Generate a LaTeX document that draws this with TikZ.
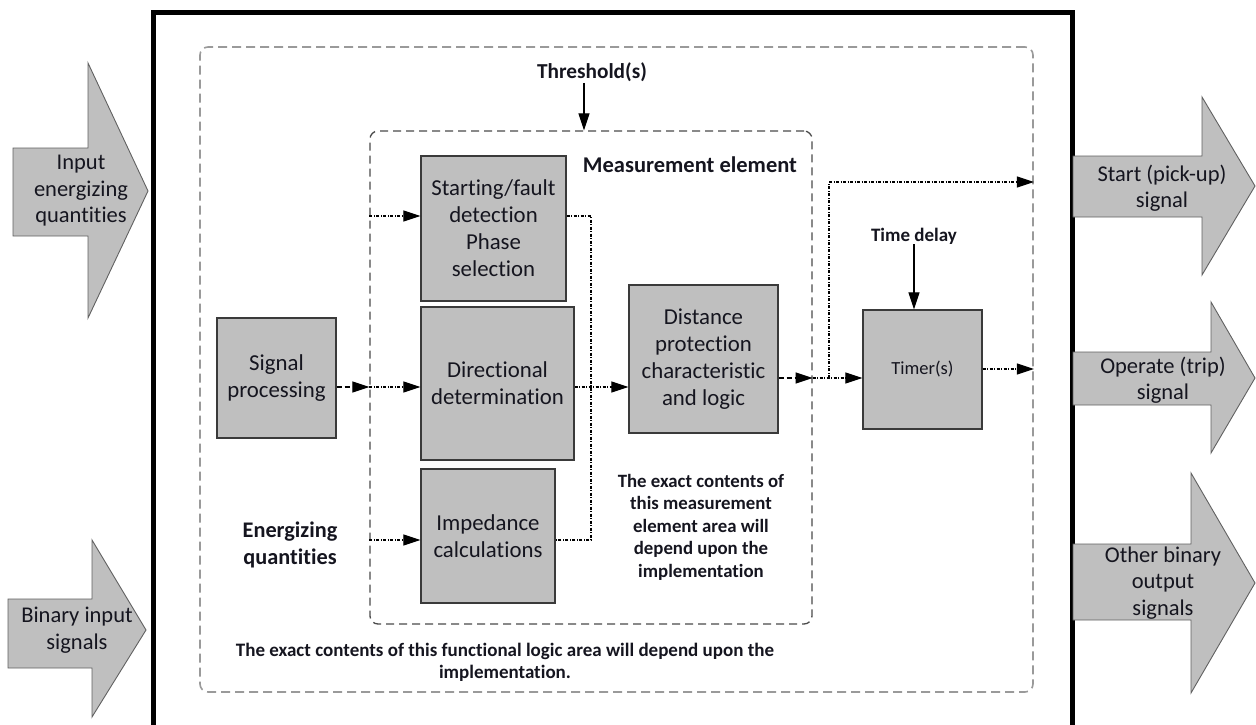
\documentclass[tikz,border=0pt]{standalone}
\usepackage{fontspec}
\setmainfont{Carlito}[Ligatures={NoCommon}]
\usetikzlibrary{arrows.meta}
\definecolor{boxfill}{HTML}{BFBFBF}
\definecolor{boxline}{HTML}{3A3A3A}
\definecolor{txt}{HTML}{15151F}
\definecolor{outerdash}{HTML}{9A9A9A}
\definecolor{innerdash}{HTML}{4A4A4A}
\tikzset{
  arrowtxt/.style={font=\fontsize{22.5}{26.5}\selectfont},
  blk/.style={draw=boxline, fill=boxfill, line width=1.3pt, align=center,
    text=txt, inner sep=0pt, font=\fontsize{22.8}{27}\selectfont},
  lbl/.style={align=center, text=txt, inner sep=0pt},
  bigarrow/.style={draw=boxline!80, fill=boxfill, line width=0.9pt, line join=miter},
  frameline/.style={line width=5pt, black, line cap=rect, line join=miter},
  areaout/.style={draw=outerdash, line width=1.6pt, rounded corners=8pt,
    dash pattern=on 9pt off 5pt, inner sep=0pt},
  areain/.style={draw=innerdash, line width=1.3pt, rounded corners=8pt,
    dash pattern=on 8pt off 5pt, inner sep=0pt},
  conn/.style={line width=1.1pt, dash pattern=on 3pt off 1.5pt on 1pt off 1.5pt,
    -{Triangle[length=17pt,width=11pt]}},
  wire/.style={line width=1.1pt, dash pattern=on 3pt off 1.5pt on 1pt off 1.5pt},
  dconn/.style={line width=1.2pt, dash pattern=on 5pt off 3pt,
    -{Triangle[length=17pt,width=11pt]}},
  sconn/.style={line width=1.2pt, -{Triangle[length=17pt,width=11pt]}},
}
\begin{document}
\begin{tikzpicture}[x=1pt, y=-1pt]
\useasboundingbox (0,0) rectangle (1256,725);

% relay enclosure
\draw[frameline] (153,725) -- (153,13) -- (1072,13) -- (1072,725);

% functional logic area and measurement element area
\node[areaout, minimum width=833pt, minimum height=645pt] (logic) at (616.5,369.5) {};
\node[areain, minimum width=442pt, minimum height=493pt] (meas) at (591,377.5) {};

% input arrows
\draw[bigarrow] (13,148) -- (88,148) -- (88,63) -- (148,191) -- (88,318) -- (88,236) -- (13,236) -- cycle;
\node[lbl, arrowtxt] (inq) at (81,191) {Input\\energizing\\quantities};
\draw[bigarrow] (8,599) -- (92,599) -- (92,540) -- (146,630) -- (92,717) -- (92,668) -- (8,668) -- cycle;
\node[lbl, arrowtxt] (inb) at (77,630) {Binary input\\signals};

% output arrows
\draw[bigarrow] (1073,156) -- (1202,156) -- (1202,97) -- (1255,186) -- (1202,275) -- (1202,217) -- (1073,217) -- cycle;
\node[lbl, arrowtxt] (ostart) at (1162,188) {Start (pick-up)\\signal};
\draw[bigarrow] (1073,352) -- (1211,352) -- (1211,302) -- (1255,378) -- (1211,453) -- (1211,405) -- (1073,405) -- cycle;
\node[lbl, arrowtxt] (otrip) at (1163,380) {Operate (trip)\\signal};
\draw[bigarrow] (1073,544) -- (1191,544) -- (1191,473) -- (1255,583) -- (1191,693) -- (1191,620) -- (1073,620) -- cycle;
\node[lbl, arrowtxt] (oother) at (1163,583) {Other binary\\output\\signals};

% function blocks
\node[blk, minimum width=119pt, minimum height=120pt] (sp) at (276.5,378) {Signal\\processing};
\node[blk, minimum width=145pt, minimum height=145pt] (sfd) at (493.5,228.5) {Starting/fault\\detection\\Phase\\selection};
\node[blk, minimum width=153pt, minimum height=153pt] (dir) at (497.5,383.5) {Directional\\determination};
\node[blk, minimum width=134pt, minimum height=134pt] (imp) at (488,536) {Impedance\\calculations};
\node[blk, minimum width=149pt, minimum height=148pt] (dpc) at (703.5,359) {Distance\\protection\\characteristic\\and logic};
\node[blk, minimum width=119pt, minimum height=119pt, font=\fontsize{18.5}{22}\selectfont] (tmr) at (922.5,369.5) {Timer(s)};

% labels
\node[lbl, font=\bfseries\fontsize{21.3}{26}\selectfont] (thr) at (592,72) {Threshold(s)};
\node[lbl, font=\bfseries\fontsize{22.5}{26}\selectfont] (mel) at (690,165) {Measurement element};
\node[lbl, font=\bfseries\fontsize{19}{22}\selectfont] (tdl) at (914,236) {Time delay};
\node[lbl, font=\bfseries\fontsize{22.3}{27}\selectfont] (enq) at (290,545) {Energizing\\quantities};
\node[lbl, font=\bfseries\fontsize{18.8}{22.5}\selectfont] (mnote) at (701,527) {The exact contents of\\this measurement\\element area will\\depend upon the\\implementation};
\node[lbl, font=\bfseries\fontsize{19}{22}\selectfont] (lnote) at (505,662) {The exact contents of this functional logic area will depend upon the\\implementation.};

% signal rows
\coordinate (rowA) at (0,216);
\coordinate (rowB) at (0,387);
\coordinate (rowC) at (0,540);
\coordinate (rowD) at (0,378);
\coordinate (rowE) at (0,182);
\coordinate (rowF) at (0,369);
\coordinate (busx) at (591,0);
\coordinate (brx) at (829,0);
\coordinate (thx) at (584,0);
\coordinate (thtop) at (584,83);

% threshold and time delay settings
\draw[sconn] (thtop) -- (thx |- meas.north);
\draw[sconn] (tdl.south) -- (tdl.south |- tmr.north);

% energizing quantities into the measurement element
\draw[dconn] (sp.east |- rowB) -- (meas.west |- rowB);
\draw[conn] (meas.west |- rowB) -- (dir.west |- rowB);
\draw[conn] (meas.west |- rowA) -- (sfd.west |- rowA);
\draw[conn] (meas.west |- rowC) -- (imp.west |- rowC);

% combining bus towards the characteristic
\draw[wire] (sfd.east |- rowA) -- (busx |- rowA) -- (busx |- rowC) -- (imp.east |- rowC);
\draw[conn] (dir.east |- rowB) -- (dpc.west |- rowB);

% outputs of the measurement element
\draw[dconn] (dpc.east |- rowD) -- (meas.east |- rowD);
\draw[conn] (meas.east |- rowD) -- (tmr.west |- rowD);
\draw[conn] (brx |- rowD) -- (brx |- rowE) -- (logic.east |- rowE);
\draw[conn] (tmr.east |- rowF) -- (logic.east |- rowF);
\end{tikzpicture}
\end{document}
